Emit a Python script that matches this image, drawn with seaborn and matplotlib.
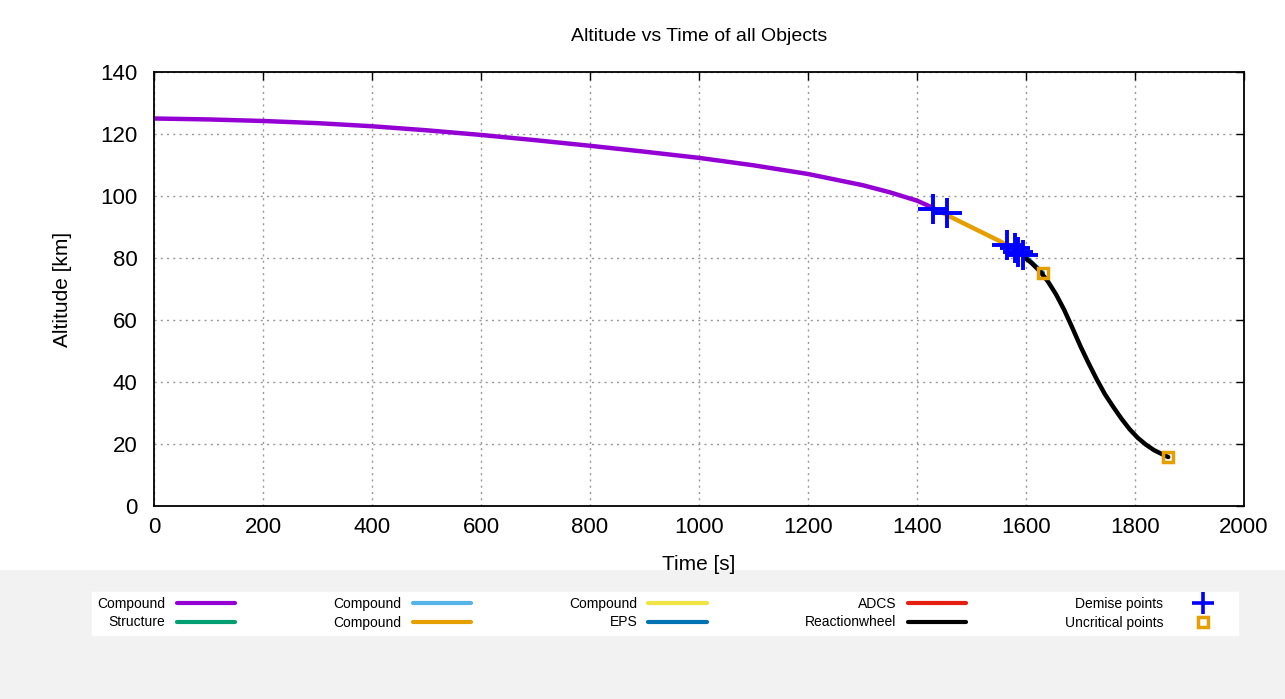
import matplotlib
matplotlib.use("Agg")
import matplotlib.pyplot as plt
import seaborn as sns
from matplotlib.lines import Line2D
from matplotlib.patches import Rectangle

# data
t_compound1 = [0, 100, 200, 300, 400, 500, 600, 700, 800, 900, 1000, 1100, 1200, 1300, 1350, 1400, 1429]
alt_compound1 = [125, 124.7, 124.2, 123.5, 122.5, 121.2, 119.7, 118.0, 116.2, 114.3, 112.3, 109.9, 107.1,
                 103.5, 101.2, 98.5, 96.2]

t_compound4 = [1429, 1460, 1490, 1520, 1550, 1575, 1595]
alt_compound4 = [96.2, 93.4, 90.8, 88.2, 85.6, 83.2, 81.0]

t_eps = [1592, 1610, 1631]
alt_eps = [81.6, 78.6, 75.2]

t_wheel = [1595, 1610, 1625, 1640, 1655, 1670, 1685, 1700, 1715, 1730, 1745, 1760, 1775, 1790,
           1805, 1820, 1835, 1850, 1861]
alt_wheel = [80.5, 78.4, 75.8, 72.5, 68.3, 63.3, 57.5, 51.5, 46.0, 40.8, 36.0, 32.0, 28.2, 24.8,
             22.0, 19.8, 18.0, 16.7, 15.8]

t_demise = [1429, 1455, 1565, 1580, 1585, 1595]
alt_demise = [95.8, 94.4, 84.2, 83.2, 82.0, 81.0]

t_uncrit = [1631, 1861]
alt_uncrit = [75.2, 15.8]

legend_labels = ["Compound", "Structure", "Compound", "Compound", "Compound",
                 "EPS", "ADCS", "Reactionwheel"]
legend_colors = ["#9400D3", "#009E73", "#56B4E9", "#E69F00", "#F0E442",
                 "#0072B2", "#E51E10", "#000000"]

sns.set_theme(style="white")
plt.rcParams['font.family'] = ['Liberation Sans', 'DejaVu Sans']
plt.rcParams['text.color'] = 'black'
plt.rcParams['axes.labelcolor'] = 'black'

fig = plt.figure(figsize=(12.85, 6.99), dpi=100)
fig.patches.append(Rectangle((0, 0), 1, 1 - 570 / 699, transform=fig.transFigure,
                             facecolor="#f2f2f2", edgecolor="none", zorder=-10))
ax = fig.add_axes([154 / 1285, 1 - 506 / 699, (1244 - 154) / 1285, (506 - 72) / 699])

sns.lineplot(x=t_compound1, y=alt_compound1, color=legend_colors[0], lw=3.2, ax=ax, sort=False)
sns.lineplot(x=t_compound4, y=alt_compound4, color=legend_colors[3], lw=3.2, ax=ax, sort=False)
sns.lineplot(x=t_eps, y=alt_eps, color=legend_colors[5], lw=3.2, ax=ax, sort=False)
sns.lineplot(x=t_wheel, y=alt_wheel, color=legend_colors[7], lw=3.2, ax=ax, sort=False)
ax.plot(t_demise, alt_demise, "+", color="#0000ff", ms=21, mew=2.8, zorder=5)
ax.plot(t_uncrit, alt_uncrit, "s", mfc="none", mec="#E69F00", ms=7, mew=2.5, zorder=5)

ax.set_xlim(0, 2000)
ax.set_ylim(0, 140)
ax.set_xticks(range(0, 2001, 200))
ax.set_yticks(range(0, 141, 20))
ax.grid(True, color="#999999", linestyle=(0, (1.5, 3)), linewidth=1)
for s in ax.spines.values():
    s.set_color("black")
    s.set_linewidth(1.3)
ax.tick_params(direction="in", top=True, right=True, length=6, width=1,
               labelsize=16, pad=8, colors="black")
ax.tick_params(axis="y", pad=12)
ax.set_xlabel("Time [s]", fontsize=15, labelpad=12)
ax.set_ylabel("Altitude [km]", fontsize=15, labelpad=20)
ax.set_title("Altitude vs Time of all Objects", fontsize=14, pad=22, color="black")

handles = [Line2D([], [], color=c, lw=3) for c in legend_colors]
handles.append(Line2D([], [], ls="none", marker="+", color="#0000ff", ms=16, mew=2.6))
handles.append(Line2D([], [], ls="none", marker="s", mfc="none", mec="#E69F00", ms=7, mew=2.5))
labels = legend_labels + ["Demise points", "Uncritical points"]
leg = fig.legend(handles, labels, ncol=5, markerfirst=False, mode="expand", loc="lower left",
                 bbox_to_anchor=(85 / 1285, 1 - 642 / 699, (1245 - 85) / 1285, 52 / 699),
                 frameon=True, fancybox=False, facecolor="white", edgecolor="white",
                 handlelength=4.2, labelspacing=0.3, borderpad=0.4,
                 prop={"family": ["Liberation Sans Narrow", "Liberation Sans"], "size": 10})
leg.get_frame().set_alpha(1)

fig.savefig("out.png", dpi=100)
